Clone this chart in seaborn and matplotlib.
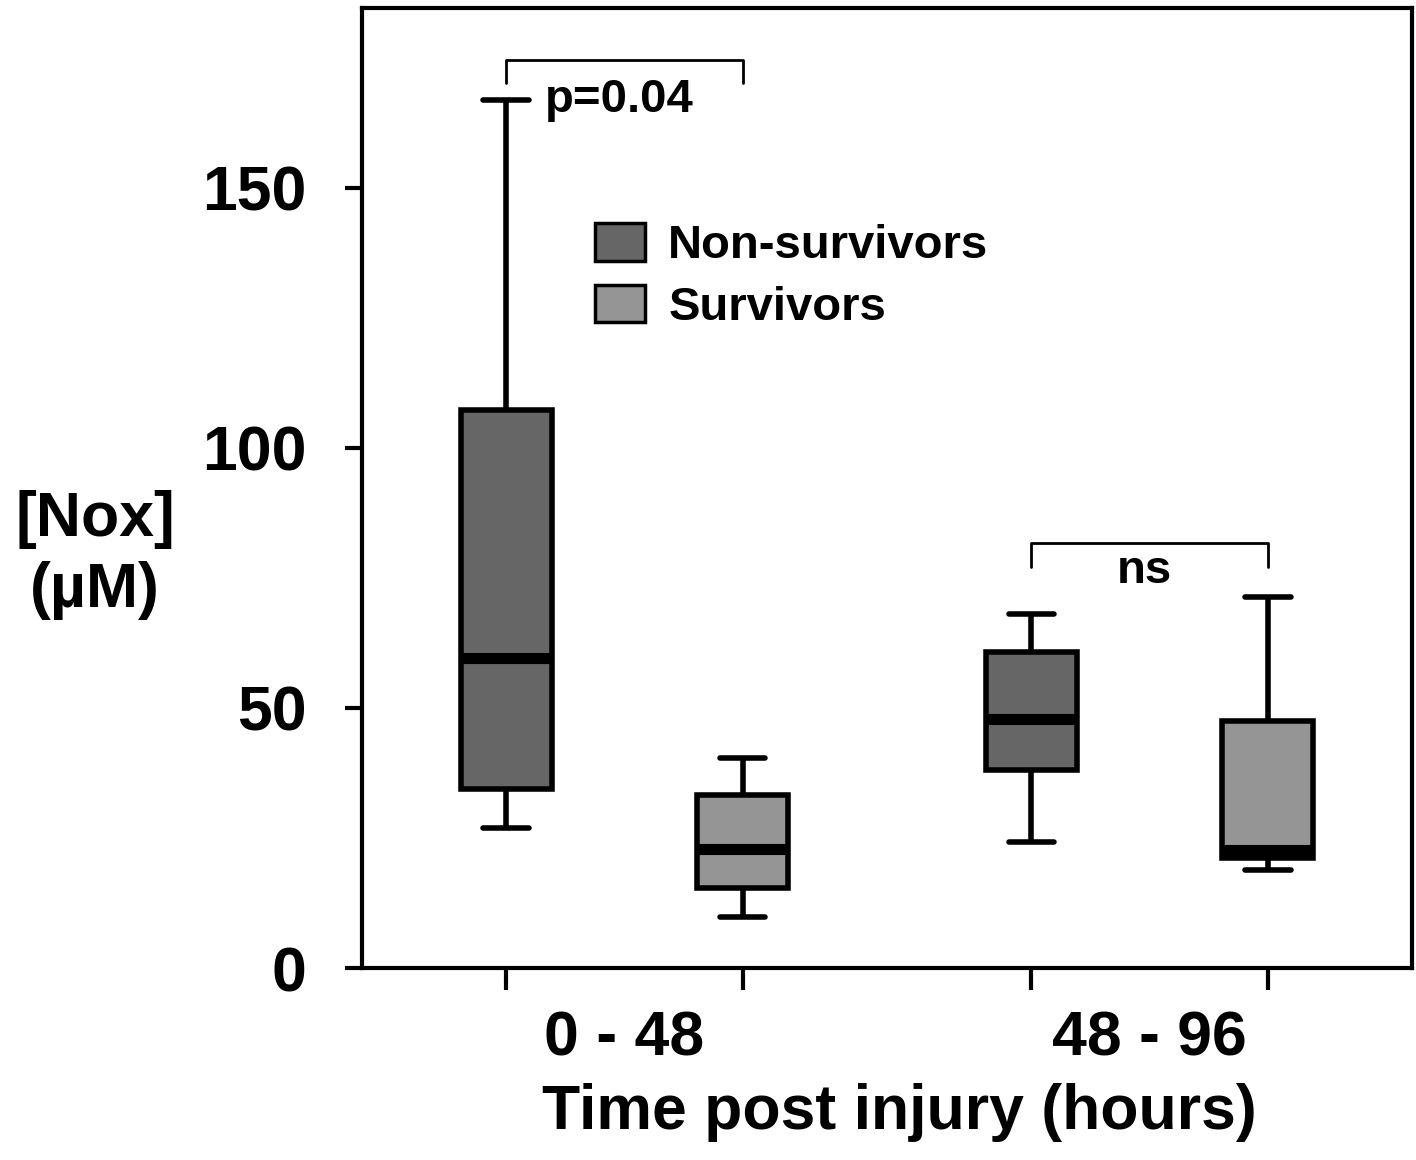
import numpy as np
import pandas as pd
import seaborn as sns
import matplotlib
import matplotlib.pyplot as plt
import matplotlib.patches as mpatches

matplotlib.use("Agg")

# five-number summaries (low whisker, Q1, median, Q3, high whisker)
groups = ['0 - 48', '48 - 96']
outcomes = ['Non-survivors', 'Survivors']
non_surv_0_48 = [26.9, 34.4, 59.6, 107.3, 166.9]
surv_0_48 = [9.8, 15.4, 22.8, 33.3, 40.4]
non_surv_48_96 = [24.2, 38.0, 47.9, 60.8, 68.1]
surv_48_96 = [18.8, 21.2, 22.6, 47.5, 71.3]
yticks = [0, 50, 100, 150]
# significance brackets
bracket_pairs = ['0 - 48', '48 - 96']
bracket_y = [174.6, 81.7]
bracket_drop = [4.5, 4.5]
bracket_text = ['p=0.04', 'ns']
bracket_text_y = [164.6, 74.0]

colors = ['#666666', '#959595']

rows = []
for grp, vals in [('0 - 48', non_surv_0_48), ('48 - 96', non_surv_48_96)]:
    rows += [(grp, 'Non-survivors', v) for v in vals]
for grp, vals in [('0 - 48', surv_0_48), ('48 - 96', surv_48_96)]:
    rows += [(grp, 'Survivors', v) for v in vals]
df = pd.DataFrame(rows, columns=['time', 'group', 'nox'])

sns.set_style('ticks', {'axes.edgecolor': 'black', 'text.color': 'black',
                        'axes.labelcolor': 'black', 'xtick.color': 'black',
                        'ytick.color': 'black'})
plt.rcParams['font.family'] = ['Liberation Sans', 'DejaVu Sans']
plt.rcParams['font.weight'] = 'bold'

fig = plt.figure(figsize=(14.16, 11.6), dpi=100)
ax = fig.add_axes([0.2556, 0.1655, 0.7416, 0.8276])

width, gap = 0.9, 0.613
sns.boxplot(data=df, x='time', y='nox', hue='group', order=groups, hue_order=outcomes,
            palette=colors, saturation=1, width=width, gap=gap, whis=(0, 100),
            linecolor='black', linewidth=4, medianprops=dict(linewidth=8),
            legend=False, ax=ax)

ax.set_xlim(-0.5, 1.5)
ax.set_ylim(0, 184.6)

for s in ax.spines.values():
    s.set_visible(True)
    s.set_linewidth(3)
    s.set_color('black')

# ticks at each box, group labels in between
offs = width / 4
box_pos = [i + d for i in range(len(groups)) for d in (-offs, offs)]
ax.set_xticks(box_pos, labels=[''] * len(box_pos))
ax.set_xticks(range(len(groups)), labels=groups, minor=True)
ax.tick_params(axis='x', which='major', length=16, width=3, direction='out', color='black')
ax.tick_params(axis='x', which='minor', length=0, pad=30, labelsize=45, labelcolor='black')
ax.set_yticks(yticks)
ax.tick_params(axis='y', length=12, width=3, pad=28, labelsize=45, color='black',
               labelcolor='black')

ax.set_xlabel('Time post injury (hours)', fontsize=45, fontweight='bold', color='black',
              va='center')
ax.xaxis.set_label_coords(0.512, -0.151)
ax.set_ylabel('[Nox]\n(µM)', fontsize=45, fontweight='bold', rotation=0, color='black',
              ha='center', va='center', linespacing=1.25)
ax.yaxis.set_label_coords(-0.254, 0.43)

# brackets
for i, grp in enumerate(bracket_pairs):
    x0, x1 = groups.index(grp) - offs, groups.index(grp) + offs
    y, d = bracket_y[i], bracket_drop[i]
    ax.plot([x0, x0, x1, x1], [y - d, y, y, y - d], color='black', lw=2)
    ax.text(groups.index(grp) - 0.01, bracket_text_y[i], bracket_text[i], ha='center',
            va='baseline', fontsize=34, fontweight='bold', color='black')

handles = [mpatches.Patch(facecolor=c, edgecolor='black', linewidth=2.5, label=l)
           for c, l in zip(colors, outcomes)]
leg = ax.legend(handles=handles, loc='upper left', bbox_to_anchor=(0.222, 0.776),
                frameon=False, prop=dict(size=34, weight='bold'), handlelength=1.06,
                handleheight=0.85, handletextpad=0.49, labelspacing=0.35, borderpad=0,
                borderaxespad=0)
for t in leg.get_texts():
    t.set_color('black')

fig.savefig('out.png', dpi=100)
